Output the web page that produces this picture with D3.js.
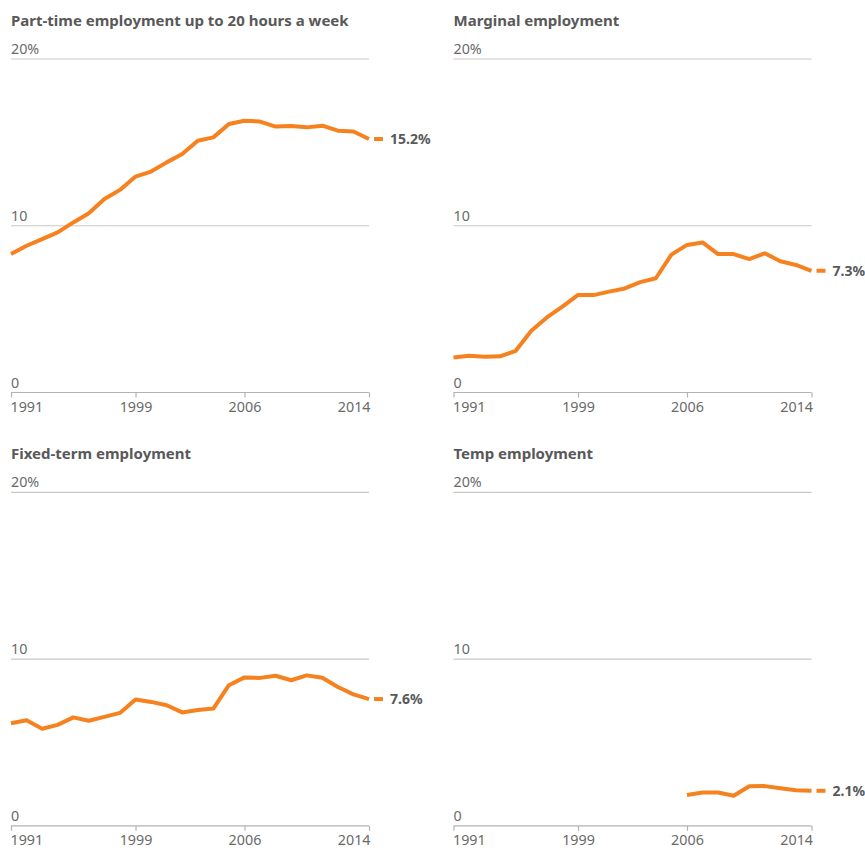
<!DOCTYPE html>
<html>
<head>
<meta charset="utf-8">
<script src="https://cdn.jsdelivr.net/npm/d3@7"></script>
<style>
  html, body { margin: 0; padding: 0; background: #fff; }
  svg { display: block; font-family: "Noto Sans", "Open Sans", sans-serif; }
</style>
</head>
<body>
<svg id="chart" width="865" height="851"></svg>
<script>
// Share of employees in each form of atypical employment, %
const yearsFull = [1991, 1992, 1993, 1994, 1995, 1996, 1997, 1998, 1999, 2000, 2001, 2002,
                   2003, 2004, 2005, 2006, 2007, 2008, 2009, 2010, 2011, 2012, 2013, 2014];
const yearsTemp = [2006, 2007, 2008, 2009, 2010, 2011, 2012, 2013, 2014];

const partTime = [8.3, 8.8, 9.2, 9.6, 10.2, 10.75, 11.6, 12.15, 12.95, 13.25, 13.8, 14.3,
                  15.1, 15.3, 16.1, 16.3, 16.25, 15.95, 15.98, 15.9, 16.0, 15.7, 15.65, 15.2];
const marginal = [2.1, 2.2, 2.15, 2.17, 2.5, 3.7, 4.5, 5.15, 5.85, 5.84, 6.05, 6.24,
                  6.62, 6.85, 8.27, 8.85, 9.0, 8.3, 8.3, 8.0, 8.35, 7.87, 7.65, 7.3];
const fixedTerm = [6.15, 6.33, 5.82, 6.05, 6.5, 6.3, 6.53, 6.77, 7.57, 7.43, 7.23, 6.8,
                   6.95, 7.03, 8.43, 8.9, 8.87, 9.0, 8.73, 9.02, 8.88, 8.32, 7.88, 7.6];
const tempWork = [1.85, 2.0, 2.0, 1.8, 2.37, 2.38, 2.25, 2.13, 2.1];

const titles = ["Part-time employment up to 20 hours a week", "Marginal employment",
                "Fixed-term employment", "Temp employment"];
const yTicks = [0, 10, 20];
const xTicks = [1991, 1999, 2006, 2014];

const panels = [
  { title: titles[0], years: yearsFull, values: partTime },
  { title: titles[1], years: yearsFull, values: marginal },
  { title: titles[2], years: yearsFull, values: fixedTerm },
  { title: titles[3], years: yearsTemp, values: tempWork }
];

const orange = "#f5821f";
const textGrey = "#595959";
const svg = d3.select("#chart");

const plotW = 358, plotH = 333.5;
const origins = [[11, 59], [453.5, 59], [11, 492.3], [453.5, 492.3]];

const x = d3.scaleLinear().domain([1991, 2014]).range([0, plotW]);
const y = d3.scaleLinear().domain([0, 20]).range([plotH, 0]);

panels.forEach((p, i) => {
  const [ox, oy] = origins[i];
  const g = svg.append("g").attr("transform", `translate(${ox},${oy})`);

  g.append("text")
    .attr("x", 0).attr("y", -33)
    .attr("fill", textGrey)
    .attr("font-size", 15)
    .attr("font-weight", 700)
    .text(p.title);

  // horizontal gridlines with their labels sitting on top
  yTicks.forEach(t => {
    g.append("line")
      .attr("x1", 0).attr("x2", plotW)
      .attr("y1", y(t)).attr("y2", y(t))
      .attr("stroke", t === 0 ? "#b3b3b3" : "#c8c8c8")
      .attr("stroke-width", 1.2);
    g.append("text")
      .attr("x", 0).attr("y", y(t) - 5)
      .attr("fill", "#6a6a6a")
      .attr("font-size", 14.3)
      .text(t === 20 ? "20%" : t);
  });

  // x axis ticks and year labels
  const xAxis = d3.axisBottom(x).tickValues(xTicks).tickFormat(d3.format("d"))
    .tickSize(5).tickPadding(4);
  const ax = g.append("g").attr("transform", `translate(0,${y(0)})`).call(xAxis);
  ax.select(".domain").remove();
  ax.selectAll(".tick line").attr("stroke", "#b3b3b3").attr("stroke-width", 1.2);
  ax.selectAll(".tick text")
    .attr("fill", "#6a6a6a")
    .attr("font-size", 14.3)
    .attr("font-family", "Noto Sans, Open Sans, sans-serif")
    .attr("text-anchor", (d, k) => k === 0 ? "start" : (k === xTicks.length - 1 ? "end" : "middle"))
    .attr("dx", (d, k) => k === 0 ? -1 : (k === xTicks.length - 1 ? 1 : 0));

  const pts = p.years.map((yr, k) => [yr, p.values[k]]);
  g.append("path")
    .datum(pts)
    .attr("fill", "none")
    .attr("stroke", orange)
    .attr("stroke-width", 4)
    .attr("stroke-linejoin", "round")
    .attr("d", d3.line().x(d => x(d[0])).y(d => y(d[1])));

  // end marker dash and value label
  const last = p.values[p.values.length - 1];
  g.append("line")
    .attr("x1", plotW + 5).attr("x2", plotW + 14)
    .attr("y1", y(last)).attr("y2", y(last))
    .attr("stroke", orange).attr("stroke-width", 4);
  g.append("text")
    .attr("x", plotW + 21).attr("y", y(last))
    .attr("dy", "0.35em")
    .attr("fill", textGrey)
    .attr("font-size", 14)
    .attr("font-weight", 700)
    .text(d3.format(".1f")(last) + "%");
});
</script>
</body>
</html>
